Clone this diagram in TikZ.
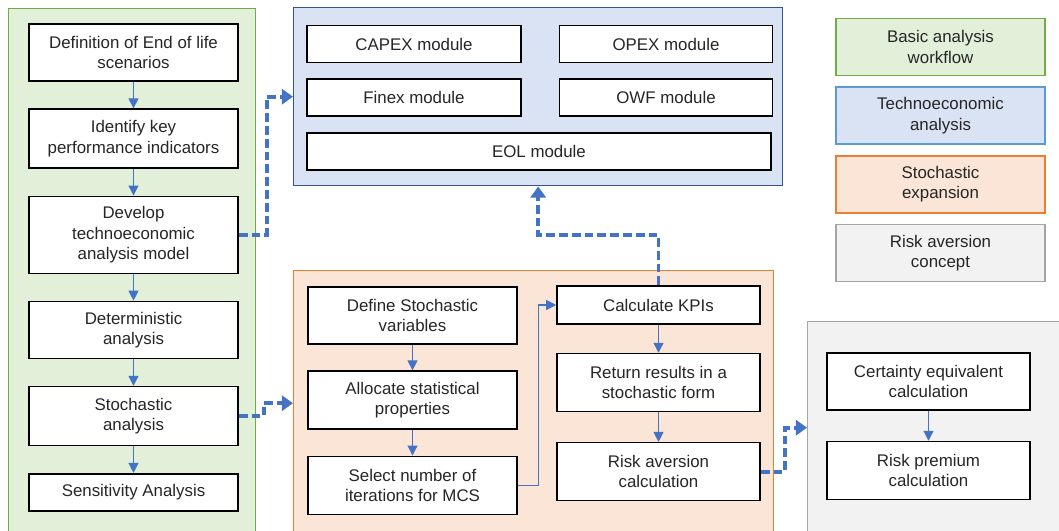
\documentclass[tikz,border=0pt]{standalone}
\usepackage{fontspec}
\setmainfont{Liberation Sans}
\usepackage{tikz}
\usetikzlibrary{arrows.meta}
\usetikzlibrary{positioning}
\definecolor{txtgrey}{HTML}{262626}
\definecolor{arrowblue}{HTML}{4472C4}
\definecolor{grpgreen}{HTML}{70AD47}
\definecolor{fillgreen}{HTML}{E2F0D9}
\definecolor{grpblue}{HTML}{2F5597}
\definecolor{legblue}{HTML}{5B9BD5}
\definecolor{fillblue}{HTML}{DAE3F3}
\definecolor{grporange}{HTML}{ED7D31}
\definecolor{fillorange}{HTML}{FBE5D6}
\definecolor{grpgrey}{HTML}{A5A5A5}
\definecolor{fillgrey}{HTML}{F2F2F2}
\tikzstyle{process} = [rectangle, minimum width=5.225cm, minimum height=1.45cm, align=center, draw=black, line width=1.1pt, fill=white, text=txtgrey, font=\fontsize{12}{14.5}\selectfont]
\tikzstyle{module} = [process, minimum height=0.925cm]
\tikzstyle{group} = [rectangle, anchor=north west, inner sep=0pt, line width=1pt]
\tikzstyle{legend} = [rectangle, minimum width=5.225cm, minimum height=1.425cm, align=center, line width=1.2pt, text=txtgrey, font=\fontsize{12}{14.5}\selectfont]
\tikzstyle{arrow} = [arrowblue, line width=0.8pt, -{Triangle[length=0.25cm, width=0.25cm]}]
\tikzstyle{dasharrow} = [arrowblue, line width=2.8pt, dash pattern=on 0.22cm off 0.1cm, -{Triangle[length=0.28cm, width=0.38cm]}]

\begin{document}
\begin{tikzpicture}[node distance=0.665cm]
\useasboundingbox (0,0) rectangle (26.475,-13.25);

% group boxes
\node (basic) [group, draw=grpgreen, fill=fillgreen, minimum width=6.175cm, minimum height=13.3cm] at (0.2,-0.2) {};
\node (tea) [group, draw=grpblue, fill=fillblue, minimum width=12.225cm, minimum height=4.45cm] at (7.325,-0.175) {};
\node (sto) [group, draw=grporange, fill=fillorange, minimum width=12cm, minimum height=6.625cm] at (7.325,-6.75) {};
\node (risk) [group, draw=grpgrey, fill=fillgrey, minimum width=7cm, minimum height=5.3cm] at (20.175,-8.025) {};

% basic workflow
\node (bas1) [process, minimum height=1.425cm] at (3.3375,-1.3125) {Definition of End of life\\scenarios};
\node (bas2) [process, minimum height=1.475cm, below=of bas1] {Identify key\\performance indicators};
\node (bas3) [process, minimum height=1.925cm, below=of bas2] {Develop\\technoeconomic\\analysis model};
\node (bas4) [process, minimum height=1.425cm, below=of bas3] {Deterministic\\analysis};
\node (bas5) [process, minimum height=1.475cm, below=of bas4] {Stochastic\\analysis};
\node (bas6) [process, minimum height=0.925cm, below=of bas5] {Sensitivity Analysis};

% technoeconomic modules
\node (tea1) [module, minimum width=5.35cm] at (10.35,-1.1) {CAPEX module};
\node (tea2) [module, minimum width=5.325cm, right=0.925cm of tea1] {OPEX module};
\node (tea3) [module, minimum width=5.35cm, below=0.38cm of tea1] {Finex module};
\node (tea4) [module, minimum width=5.325cm, below=0.38cm of tea2] {OWF module};
\node (tea5) [module, minimum width=11.6cm] at (13.475,-3.7875) {EOL module};

% stochastic expansion
\node (sto1) [process, minimum height=1.425cm] at (10.3125,-7.8875) {Define Stochastic\\variables};
\node (sto2) [process, below=0.64cm of sto1] {Allocate statistical\\properties};
\node (sto3) [process, below=0.64cm of sto2] {Select number of\\iterations for MCS};
\node (sto4) [process, minimum width=5.075cm, minimum height=0.95cm] at (16.4625,-7.625) {Calculate KPIs};
\node (sto5) [process, minimum width=5.075cm, below=0.7cm of sto4] {Return results in a\\stochastic form};
\node (sto6) [process, minimum width=5.075cm, below=0.74cm of sto5] {Risk aversion\\calculation};

% risk aversion
\node (risk1) [process, minimum width=5.075cm, minimum height=1.425cm] at (23.2125,-9.5375) {Certainty equivalent\\calculation};
\node (risk2) [process, minimum width=5.075cm, below=0.75cm of risk1] {Risk premium\\calculation};

% legend
\node (leg1) [legend, draw=grpgreen, fill=fillgreen] at (23.5125,-1.175) {Basic analysis\\workflow};
\node (leg2) [legend, draw=legblue, fill=fillblue, below=0.25cm of leg1] {Technoeconomic\\analysis};
\node (leg3) [legend, draw=grporange, fill=fillorange, below=0.25cm of leg2] {Stochastic\\expansion};
\node (leg4) [legend, draw=grpgrey, fill=fillgrey, below=0.25cm of leg3] {Risk aversion\\concept};

\draw [arrow] (bas1) -- (bas2);
\draw [arrow] (bas2) -- (bas3);
\draw [arrow] (bas3) -- (bas4);
\draw [arrow] (bas4) -- (bas5);
\draw [arrow] (bas5) -- (bas6);
\draw [arrow] (sto1) -- (sto2);
\draw [arrow] (sto2) -- (sto3);
\draw [arrow] (sto3.east) -- ++(0.525,0) |- (sto4.west);
\draw [arrow] (sto4) -- (sto5);
\draw [arrow] (sto5) -- (sto6);
\draw [arrow] (risk1) -- (risk2);

\draw [dasharrow] (bas3.east) -- ++(0.7,0) |- (tea.west);
\draw [dasharrow] (bas5.east) -- ++(0.625,0) |- (sto.west);
\draw [dasharrow] (sto6.east) -- ++(0.6,0) |- (risk.west);
\draw [dasharrow] (sto4.north) -- ++(0,1.25) -| (tea.south);

\end{tikzpicture}
\end{document}
